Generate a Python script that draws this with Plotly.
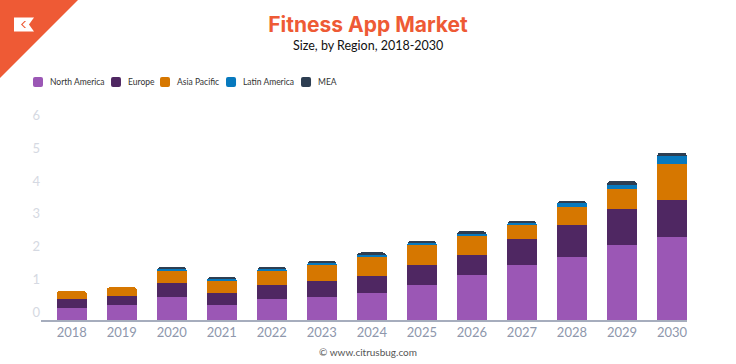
import plotly.graph_objects as go
import numpy as np

years = ["2018", "2019", "2020", "2021", "2022", "2023", "2024",
         "2025", "2026", "2027", "2028", "2029", "2030"]
north_america = [0.13, 0.21, 0.46, 0.21, 0.40, 0.46, 0.58, 0.83, 1.13, 1.44, 1.68, 2.05, 2.29]
europe        = [0.27, 0.27, 0.43, 0.37, 0.43, 0.49, 0.52, 0.61, 0.61, 0.80, 0.98, 1.10, 1.12]
asia_pacific  = [0.25, 0.28, 0.38, 0.38, 0.43, 0.49, 0.61, 0.61, 0.61, 0.41, 0.55, 0.61, 1.11]
latin_america = [0.00, 0.00, 0.06, 0.06, 0.06, 0.06, 0.06, 0.06, 0.06, 0.08, 0.12, 0.12, 0.25]
mea           = [0.00, 0.00, 0.05, 0.05, 0.06, 0.05, 0.05, 0.06, 0.06, 0.06, 0.07, 0.12, 0.10]

label_years = ["2023", "2024", "2030"]
label_texts = ["$1.5", "$1.8", "$4.8"]

y_ticks = [0, 1, 2, 3, 4, 5, 6]

series = [
    ("North America", north_america, "#9B57B5"),
    ("Europe", europe, "#4F2762"),
    ("Asia Pacific", asia_pacific, "#D67700"),
    ("Latin America", latin_america, "#0779BE"),
    ("MEA", mea, "#2D3E52"),
]
# left pixel of each legend swatch (legend is laid out by hand to match spacing)
legend_swatch_x = [33, 111, 160, 226, 301]

W, H = 736, 364
ML, MR, MT, MB = 41, 49, 106, 44
PW, PH = W - ML - MR, H - MT - MB


def px(x):
    return (x - ML) / PW


def py(y):
    return (H - MB - y) / PH


FLOOR = -0.245  # axis baseline sits slightly below zero, as in the reference
BAR_W = 0.6

fig = go.Figure()
for name, vals, col in series:
    fig.add_trace(go.Bar(x=years, y=vals, name=name, marker_color=col,
                         marker_line_width=0, width=BAR_W))

# bottom extension of the first series down to the axis baseline
fig.add_trace(go.Bar(x=years, y=[-FLOOR] * len(years), base=FLOOR,
                     marker=dict(color=series[0][2], cornerradius=0, line_width=0),
                     width=BAR_W, showlegend=False, hoverinfo="skip"))

totals = np.sum([north_america, europe, asia_pacific, latin_america, mea], axis=0)
for yr, txt in zip(label_years, label_texts):
    i = years.index(yr)
    fig.add_annotation(x=yr, y=totals[i], text=txt, showarrow=False,
                       yanchor="bottom", yshift=4,
                       font=dict(family="Lato", size=11, color="#A3AABB"))


def path(points):
    return "M " + " L ".join(f"{px(a):.4f} {py(b):.4f}" for a, b in points) + " Z"


def rounded_square(x0, y0, s, r):
    x1, y1 = x0 + s, y0 + s
    P = lambda a, b: f"{px(a):.4f},{py(b):.4f}"
    return (f"M {P(x0 + r, y0)} L {P(x1 - r, y0)} Q {P(x1, y0)} {P(x1, y0 + r)} "
            f"L {P(x1, y1 - r)} Q {P(x1, y1)} {P(x1 - r, y1)} "
            f"L {P(x0 + r, y1)} Q {P(x0, y1)} {P(x0, y1 - r)} "
            f"L {P(x0, y0 + r)} Q {P(x0, y0)} {P(x0 + r, y0)} Z")


# legend (drawn by hand)
LEG_Y = 82
for (name, _, col), sx in zip(series, legend_swatch_x):
    fig.add_shape(type="path", xref="paper", yref="paper",
                  path=rounded_square(sx, LEG_Y - 5, 10, 2),
                  fillcolor=col, line_width=0)
    fig.add_annotation(text=name, xref="paper", yref="paper",
                       x=px(sx + 15), y=py(LEG_Y), showarrow=False,
                       xanchor="left", yanchor="middle",
                       font=dict(family="Lato", size=8.5, color="#333333"))

# logo (decoration)
fig.add_shape(type="path", xref="paper", yref="paper", layer="above",
              path=path([(0, 0), (78, 0), (0, 78)]),
              fillcolor="#EE5A35", line_width=0)
fig.add_shape(type="path", xref="paper", yref="paper", layer="above",
              path=path([(14, 17.5), (34, 17.5), (29, 24.5), (34, 31.5), (14, 31.5)]),
              fillcolor="#FFFFFF", line_width=0)
fig.add_shape(type="path", xref="paper", yref="paper", layer="above",
              path=path([(24.5, 21), (26, 21), (22.5, 24.5), (26, 28), (24.5, 28), (21, 24.5)]),
              fillcolor="#EE5A35", line_width=0)

fig.update_layout(
    width=W, height=H, autosize=False,
    margin=dict(l=ML, r=MR, t=MT, b=MB),
    plot_bgcolor="white", paper_bgcolor="white",
    barmode="stack", barcornerradius=4,
    font=dict(family="Lato", color="#333333"),
    title=dict(text="<b>Fitness App Market</b>", x=0.5, xanchor="center",
               xref="container", y=1 - 25 / H, yanchor="middle", yref="container",
               font=dict(family="Inter", size=21, color="#EE5A35")),
    showlegend=False,
    xaxis=dict(range=[-0.614, 12.3], showgrid=False, zeroline=False,
               showline=True, linecolor="#A6ADBD", linewidth=1.5,
               tickfont=dict(family="Lato", size=13, color="#8E97AC"), ticks=""),
    yaxis=dict(range=[FLOOR, 6.3], showgrid=False, zeroline=False, showline=False,
               tickvals=y_ticks, ticktext=[str(v) for v in y_ticks],
               tickfont=dict(family="Lato", size=13, color="#D5D9E2"), ticks=""),
)

fig.add_annotation(text="Size, by Region, 2018-2030", xref="paper", yref="paper",
                   x=px(368), y=py(46), showarrow=False, yanchor="middle", xanchor="center",
                   font=dict(family="Lato", size=12.5, color="#111111"))
fig.add_annotation(text="© www.citrusbug.com", xref="paper", yref="paper",
                   x=px(368), y=py(352), showarrow=False, yanchor="middle", xanchor="center",
                   font=dict(family="Lato", size=10, color="#555555"))

fig.write_html("out.html", config={"displayModeBar": False},
               post_script="document.body.style.margin='0';document.body.style.padding='0';")
